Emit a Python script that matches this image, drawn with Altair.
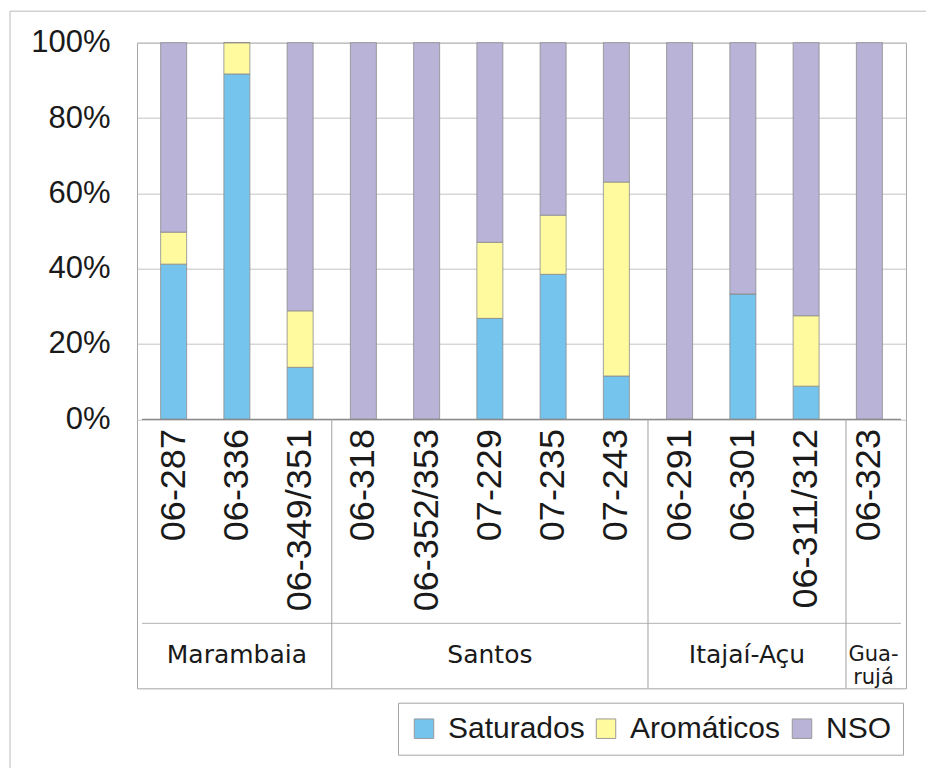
import altair as alt
import pandas as pd

# ---------------- data ----------------
samples = ["06-287", "06-336", "06-349/351", "06-318", "06-352/353", "07-229",
           "07-235", "07-243", "06-291", "06-301", "06-311/312", "06-323"]
saturados = [41.2, 91.7, 13.8, 0.0, 0.0, 26.8, 38.5, 11.5, 0.0, 33.3, 8.8, 0.0]
aromaticos = [8.5, 8.3, 15.0, 0.0, 0.0, 20.2, 15.7, 51.5, 0.0, 0.0, 18.7, 0.0]
nso = [50.3, 0.0, 71.2, 100.0, 100.0, 53.0, 45.8, 37.0, 100.0, 66.7, 72.5, 100.0]
components = ["Saturados", "Aromáticos", "NSO"]
colors = ["#75C4EE", "#FFFA9E", "#B8B3D7"]
groups = ["Marambaia", "Santos", "Itajaí-Açu", "Gua-\nrujá"]
group_start = [0, 3, 8, 11.13]
group_end = [3, 8, 11.13, 12]
y_ticks = [0, 20, 40, 60, 80, 100]

SANS = "Liberation Sans, Arial, sans-serif"
YMIN = -71.43      # bottom of the category box (in % units of the y scale)
Y_ROW = -54.17     # line between sample labels and group boxes
Y_TICKLAB = -2.6   # anchor of the rotated sample labels
Y_GROUP = -62.6    # centre of the group names

# ---------------- tables ----------------
rows = []
for i, s in enumerate(samples):
    for k, (comp, vals) in enumerate(zip(components, [saturados, aromaticos, nso])):
        rows.append({"sample": s, "pos": i + 0.5, "comp": comp, "ord": k, "value": vals[i]})
bars_df = pd.DataFrame(rows)
labels_df = pd.DataFrame({"sample": samples,
                          "pos": [i + 0.5 for i in range(len(samples))],
                          "y": Y_TICKLAB})
groups_df = pd.DataFrame({"group": groups, "start": group_start, "end": group_end})
groups_df["mid"] = (groups_df["start"] + groups_df["end"]) / 2
groups_df["two"] = groups_df["group"].str.contains("\n")
groups_df["y"] = Y_GROUP
sep_df = pd.DataFrame({"b": group_start[1:], "y0": 0.0, "y1": YMIN})
axis_df = pd.DataFrame({"y": [0.0], "x0": [0.0], "x1": [12.0]})
row_df = pd.DataFrame({"y": [Y_ROW], "x0": [0.0], "x1": [12.0]})

xs = alt.Scale(domain=[0, 12], nice=False, zero=False)
ys = alt.Scale(domain=[YMIN, 100], nice=False, zero=False)
y_axis = alt.Axis(values=y_ticks, labelExpr="datum.value + '%'", grid=True,
                  gridColor="#C4C4C4", gridWidth=1, domain=False, ticks=False,
                  labelPadding=27, labelFontSize=31, labelFont=SANS,
                  labelColor="#1A1A1A", title=None)

bars = alt.Chart(bars_df).mark_bar(size=26, stroke="#8C8C8C", strokeWidth=0.8).encode(
    x=alt.X("pos:Q", scale=xs, axis=None),
    y=alt.Y("value:Q", stack="zero", scale=ys, axis=y_axis),
    color=alt.Color("comp:N", scale=alt.Scale(domain=components, range=colors),
                    legend=alt.Legend(title=None)),
    order=alt.Order("ord:Q"),
)

axis_line = alt.Chart(axis_df).mark_rule(color="#8A8A8A", strokeWidth=1.2).encode(
    x=alt.X("x0:Q", axis=None), x2="x1:Q", y=alt.Y("y:Q", axis=y_axis))

row_line = alt.Chart(row_df).mark_rule(color="#B0B0B0", strokeWidth=1).encode(
    x=alt.X("x0:Q", axis=None), x2="x1:Q", y=alt.Y("y:Q", axis=y_axis))

seps = alt.Chart(sep_df).mark_rule(color="#A0A0A0", strokeWidth=1).encode(
    x=alt.X("b:Q", axis=None), y=alt.Y("y0:Q", axis=y_axis), y2="y1:Q")

tick_labels = alt.Chart(labels_df).mark_text(
    angle=270, align="right", baseline="middle", font=SANS, fontSize=36, color="#1A1A1A"
).encode(
    x=alt.X("pos:Q", axis=None),
    y=alt.Y("y:Q", axis=y_axis),
    text="sample:N",
)

group_base = alt.Chart(groups_df).encode(
    x=alt.X("mid:Q", axis=None),
    y=alt.Y("y:Q", axis=y_axis),
    text="group:N",
)
group_labels = group_base.mark_text(
    align="center", baseline="middle", font="DejaVu Sans", fontSize=25, color="#1A1A1A"
).transform_filter("!datum.two")
group_labels2 = group_base.mark_text(
    align="center", baseline="middle", font="DejaVu Sans", fontSize=21, color="#1A1A1A",
    lineBreak="\n", lineHeight=23
).transform_filter("datum.two")

frame_top = alt.Chart(axis_df).mark_rule(color="#BBBBBB", strokeWidth=1).encode(
    x=alt.value(-127), x2=alt.value(800), y=alt.value(-31.5))
frame_left = alt.Chart(axis_df).mark_rule(color="#BBBBBB", strokeWidth=1).encode(
    x=alt.value(-127), y=alt.value(-31.5), y2=alt.value(728))

chart = alt.layer(
    bars, axis_line, row_line, seps, tick_labels, group_labels, group_labels2,
    frame_top, frame_left
).properties(
    width=769, height=645.6,
    autosize=alt.AutoSizeParams(type="none"),
    padding={"left": 129, "top": 34.7, "right": 20, "bottom": 80},
).configure_view(
    stroke="#A6A6A6", strokeWidth=1
).configure_legend(
    orient="none", legendX=261, legendY=660, direction="horizontal",
    strokeColor="#A6A6A6", padding=11, symbolType="square", symbolSize=380,
    symbolStrokeColor="#999999", symbolStrokeWidth=1, symbolOpacity=1,
    labelFontSize=30, labelFont=SANS, labelColor="#1A1A1A", labelOffset=9,
    columnPadding=6, labelLimit=400,
)

chart.save("out.html", embed_options={"renderer": "svg", "actions": False})
